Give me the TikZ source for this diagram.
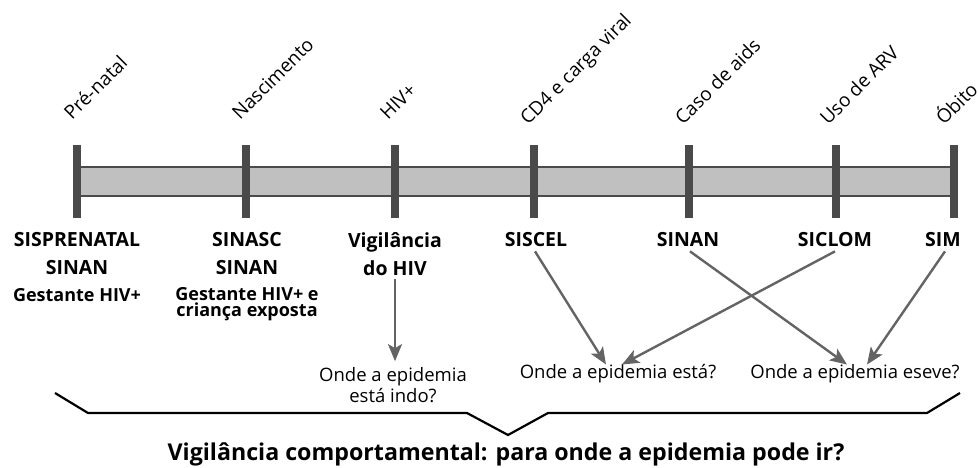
\documentclass[tikz,border=0pt]{standalone}
\usepackage{fontspec}
\setmainfont{Open Sans}
\usetikzlibrary{arrows.meta}
\definecolor{bardark}{HTML}{4A4A4A}
\definecolor{bandfill}{HTML}{C0C0C0}
\definecolor{arrgray}{HTML}{646464}
\tikzset{
  x=1pt, y=1pt,
  barnode/.style={fill=bardark, draw=none, minimum width=8pt, minimum height=73pt, inner sep=0pt},
  toplab/.style={rotate=45, anchor=base west, font=\fontsize{19}{20}\selectfont, inner sep=0pt},
  syslab/.style={font=\fontsize{19.5}{28}\selectfont\bfseries, align=center, inner sep=1pt},
  sublab/.style={font=\fontsize{18}{16.5}\selectfont\bfseries, align=center, inner sep=1pt},
  qlab/.style={font=\fontsize{18.5}{21}\selectfont, align=center, inner sep=1pt},
  arr/.style={draw=arrgray, line width=2.4pt, -{Stealth[length=17pt,width=14pt,inset=4pt]}},
  bracel/.style={draw=black, line width=2.2pt, line join=miter},
}
\begin{document}
\begin{tikzpicture}
\useasboundingbox (0,0) rectangle (978,467);
% band
\fill[bandfill] (81,271) rectangle (950,300);
\draw[bardark, line width=1.7pt] (81,300) -- (950,300);
\draw[bardark, line width=1.7pt] (81,271) -- (950,271);
% bars
\node[barnode] (b1) at (77,285.5) {};
\node[barnode] (b2) at (246,285.5) {};
\node[barnode] (b3) at (395,285.5) {};
\node[barnode] (b4) at (534,285.5) {};
\node[barnode] (b5) at (689,285.5) {};
\node[barnode] (b6) at (836,285.5) {};
\node[barnode] (b7) at (953.5,285.5) {};
% top labels
\node[toplab] (t1) at (72,346) {Pré-natal};
\node[toplab] (t2) at (240,346) {Nascimento};
\node[toplab] (t3) at (388,346) {HIV+};
\node[toplab] (t4) at (528,341) {CD4 e carga viral};
\node[toplab] (t5) at (683,341) {Caso de aids};
\node[toplab] (t6) at (828,341) {Uso de ARV};
\node[toplab] (t7) at (944,341) {Óbito};
% system labels
\node[syslab] (s1) at (77,213) {SISPRENATAL\\SINAN};
\node[sublab] (g1) at (77,172) {Gestante HIV+};
\node[syslab] (s2) at (247,213) {SINASC\\SINAN};
\node[sublab] (g2) at (247,163) {Gestante HIV+ e\\criança exposta};
\node[syslab] (s3) at (395,213) {Vigilância\\do HIV};
\node[syslab] (s4) at (536,227) {SISCEL};
\node[syslab] (s5) at (688,227) {SINAN};
\node[syslab] (s6) at (835,227) {SICLOM};
\node[syslab] (s7) at (943,227) {SIM};
% questions
\node[qlab] (q1) at (393,82) {Onde a epidemia\\está indo?};
\node[qlab] (q2) at (618,93) {Onde a epidemia está?};
\node[qlab] (q3) at (855,93) {Onde a epidemia eseve?};
% arrows
\draw[arr] ([yshift=-2pt]s3.south) -- ([yshift=5pt]s3.south |- q1.north);
\draw[arr] ([xshift=-1pt,yshift=-3pt]s4.south) -- ([xshift=-12pt,yshift=-1pt]q2.north);
\draw[arr] ([xshift=0pt,yshift=-3pt]s6.south) -- ([xshift=4pt,yshift=-1pt]q2.north);
\draw[arr] ([xshift=2pt,yshift=-3pt]s5.south) -- ([xshift=-8pt,yshift=-1pt]q3.north);
\draw[arr] ([xshift=2pt,yshift=-3pt]s7.south) -- ([xshift=12pt,yshift=-1pt]q3.north);
% brace
\coordinate (br0) at (55,74);
\coordinate (br1) at (88,54);
\coordinate (br2) at (467,54);
\coordinate (br3) at (508,32);
\coordinate (br4) at (548,54);
\coordinate (br5) at (927,54);
\coordinate (br6) at (960,74);
\draw[bracel] (br0) -- (br1) -- (br2) -- (br3) -- (br4) -- (br5) -- (br6);
\node[font=\fontsize{23.2}{24}\selectfont\bfseries, inner sep=0pt] (bot) at (506,13) {Vigilância comportamental: para onde a epidemia pode ir?};
\end{tikzpicture}
\end{document}
